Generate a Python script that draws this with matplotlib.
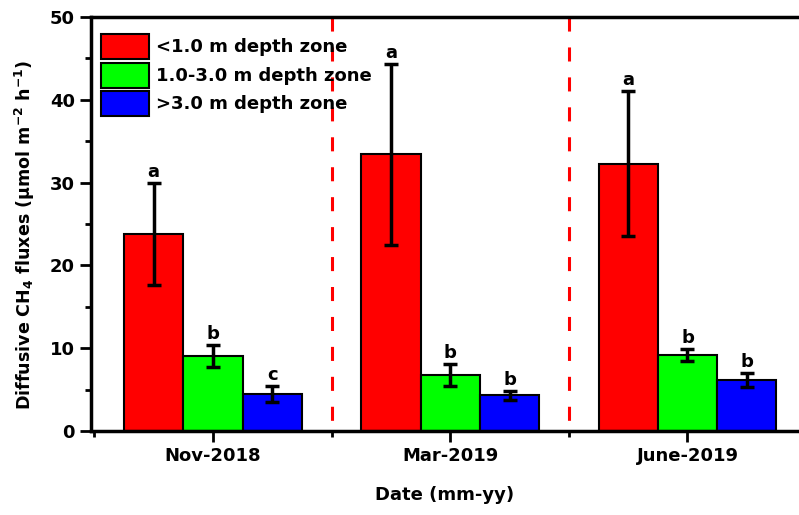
import numpy as np
import matplotlib.pyplot as plt
from matplotlib.ticker import MultipleLocator, FixedLocator

plt.rcParams['font.family'] = ['DejaVu Sans']
plt.rcParams['font.weight'] = 'bold'
plt.rcParams['mathtext.default'] = 'bf'

dates = ['Nov-2018', 'Mar-2019', 'June-2019']
zones = ['<1.0 m depth zone', '1.0-3.0 m depth zone', '>3.0 m depth zone']
colors = ['#ff0000', '#00ff00', '#0000ff']

shallow = [23.8, 33.4, 32.3]
shallow_err = [6.2, 10.95, 8.75]
middle = [9.1, 6.8, 9.2]
middle_err = [1.35, 1.3, 0.75]
deep = [4.5, 4.3, 6.2]
deep_err = [0.95, 0.55, 0.85]

letters = [['a', 'a', 'a'], ['b', 'b', 'b'], ['c', 'b', 'b']]

fig = plt.figure(figsize=(7.99, 5.15), dpi=100)
ax = fig.add_axes([0.114, 0.163, 0.886, 0.804])

x = np.arange(1, len(dates) + 1)
w = 0.25
series = [(shallow, shallow_err), (middle, middle_err), (deep, deep_err)]
for i, (vals, errs) in enumerate(series):
    pos = x + (i - 1) * w
    ax.bar(pos, vals, w, color=colors[i], edgecolor='black', linewidth=1.5,
           label=zones[i], zorder=2)
    ax.errorbar(pos, vals, yerr=errs, fmt='none', ecolor='black',
                elinewidth=2.5, capsize=5, capthick=2.5, zorder=3)
    for p, v, e, t in zip(pos, vals, errs, letters[i]):
        ax.text(p, v + e + 0.2, t, ha='center', va='bottom', fontsize=13,
                fontweight='bold')

# group separators, drawn top-down so the dash pattern starts at the top
for xv in [1.5, 2.5]:
    ax.plot([xv, xv], [50, 0], color='#ff0000', linestyle=(0, (4.6, 5.2)),
            linewidth=2.2, zorder=1)

ax.set_xlim(0.486, 3.47)
ax.set_ylim(0, 50)
ax.set_xticks(x)
ax.set_xticklabels(dates)
ax.xaxis.set_minor_locator(FixedLocator([0.5, 1.5, 2.5, 3.5]))
ax.yaxis.set_major_locator(MultipleLocator(10))
ax.yaxis.set_minor_locator(MultipleLocator(5))
ax.tick_params(axis='both', which='major', direction='out', length=8, width=2,
               labelsize=13)
ax.tick_params(axis='both', which='minor', direction='out', length=4, width=2)

for s in ['left', 'bottom', 'top']:
    ax.spines[s].set_linewidth(2.5)
ax.spines['right'].set_visible(False)

ax.set_xlabel('Date (mm-yy)', fontsize=13, fontweight='bold', labelpad=15)
ax.set_ylabel('Diffusive CH$_4$ fluxes (\u00b5mol m$^{-2}$ h$^{-1}$)',
              fontsize=12.6, fontweight='bold')
ax.yaxis.set_label_coords(-0.076, 0.473)

leg = ax.legend(loc='upper left', frameon=False, fontsize=13, handlelength=2.67,
                handleheight=1.75, handletextpad=0.35, labelspacing=0.2,
                borderpad=0, borderaxespad=0, bbox_to_anchor=(0.014, 0.959))

fig.savefig('out.png', dpi=100)
